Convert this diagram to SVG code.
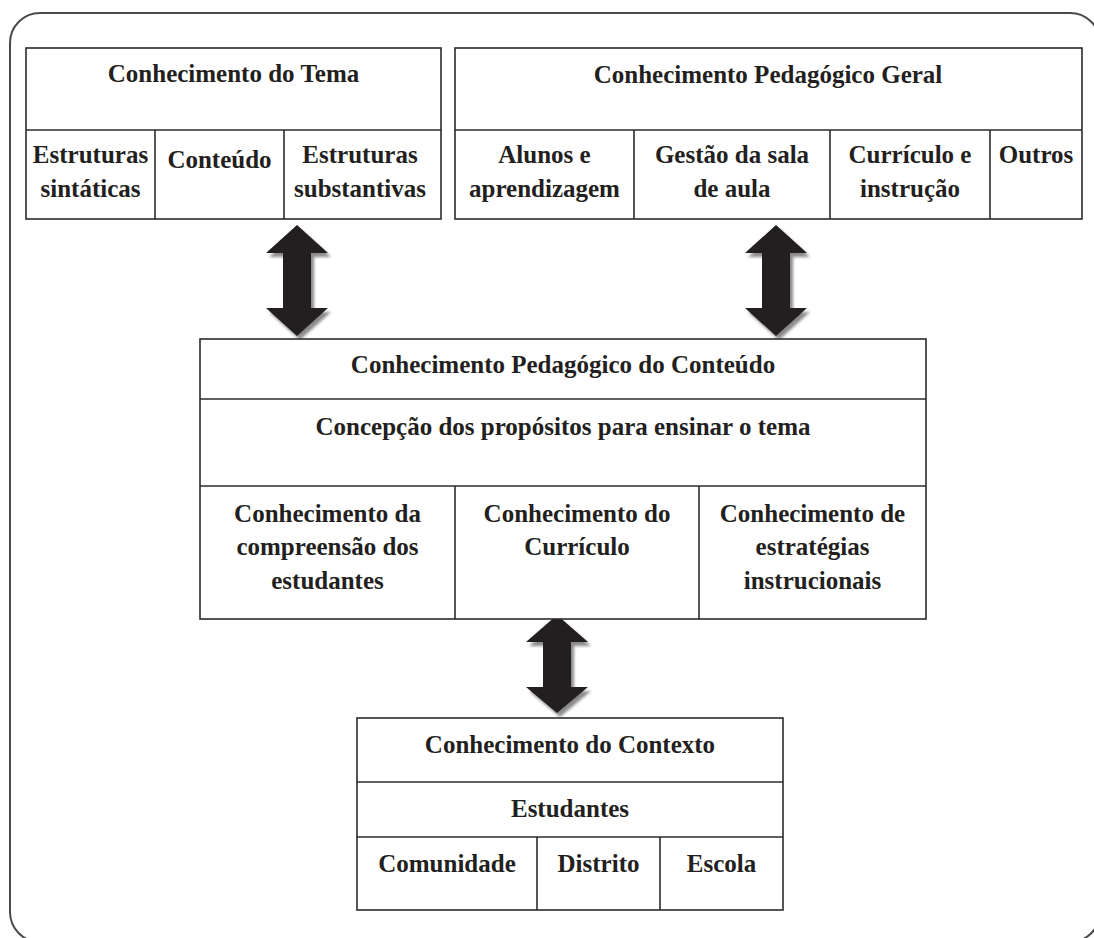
<svg xmlns="http://www.w3.org/2000/svg" width="1094" height="938" viewBox="0 0 1094 938">
<style>
.box{fill:#fff;stroke:#2b2b2b;stroke-width:1.6}
.ln{stroke:#2b2b2b;stroke-width:1.6;fill:none}
.t{font-family:"Liberation Serif","Times New Roman",serif;font-weight:bold;font-size:25px;fill:#231f20;text-anchor:middle}
.arr{fill:#231f20}
.sh{fill:#8a8a8a;filter:url(#blur)}
</style>
<defs>
<filter id="blur" x="-20%" y="-20%" width="140%" height="140%"><feGaussianBlur stdDeviation="1.5"/></filter>
</defs>
<rect width="1094" height="938" fill="#fff"/>
<rect id="frame" x="10" y="13" width="1090" height="929" rx="30" ry="30" fill="none" stroke="#4a4a4a" stroke-width="2"/>

<g id="connectors">
  <path class="sh" transform="translate(3,4)" d="M297,225 L328,253 L311,253 L311,308 L328,308 L297,336 L266,308 L283,308 L283,253 L266,253 Z"/>
  <path class="arr" d="M297,225 L328,253 L311,253 L311,308 L328,308 L297,336 L266,308 L283,308 L283,253 L266,253 Z"/>
  <path class="sh" transform="translate(3,4)" d="M776,225 L807,253 L790,253 L790,308 L807,308 L776,336 L745,308 L762,308 L762,253 L745,253 Z"/>
  <path class="arr" d="M776,225 L807,253 L790,253 L790,308 L807,308 L776,336 L745,308 L762,308 L762,253 L745,253 Z"/>
  <path class="sh" transform="translate(3,4)" d="M557,615 L588,642 L571,642 L571,687 L588,687 L557,713 L526,687 L543,687 L543,642 L526,642 Z"/>
  <path class="arr" d="M557,615 L588,642 L571,642 L571,687 L588,687 L557,713 L526,687 L543,687 L543,642 L526,642 Z"/>
</g>

<g id="tema">
  <rect class="box" x="26" y="48" width="415" height="171"/>
  <line class="ln" x1="26" y1="130" x2="441" y2="130"/>
  <line class="ln" x1="155" y1="130" x2="155" y2="219"/>
  <line class="ln" x1="284" y1="130" x2="284" y2="219"/>
  <text class="t" x="233.5" y="82">Conhecimento do Tema</text>
  <text class="t" x="90.5" y="163">Estruturas</text>
  <text class="t" x="90.5" y="197">sintáticas</text>
  <text class="t" x="219.5" y="168">Conteúdo</text>
  <text class="t" x="360" y="163">Estruturas</text>
  <text class="t" x="360" y="197">substantivas</text>
</g>

<g id="pedagogico-geral">
  <rect class="box" x="455" y="48" width="627" height="171"/>
  <line class="ln" x1="455" y1="130" x2="1082" y2="130"/>
  <line class="ln" x1="634" y1="130" x2="634" y2="219"/>
  <line class="ln" x1="830" y1="130" x2="830" y2="219"/>
  <line class="ln" x1="990" y1="130" x2="990" y2="219"/>
  <text class="t" x="768" y="83">Conhecimento Pedagógico Geral</text>
  <text class="t" x="544.5" y="163">Alunos e</text>
  <text class="t" x="544.5" y="197">aprendizagem</text>
  <text class="t" x="732" y="163">Gestão da sala</text>
  <text class="t" x="732" y="197">de aula</text>
  <text class="t" x="910" y="163">Currículo e</text>
  <text class="t" x="910" y="197">instrução</text>
  <text class="t" x="1036" y="163">Outros</text>
</g>

<g id="pck">
  <rect class="box" x="200" y="339" width="726" height="280"/>
  <line class="ln" x1="200" y1="399" x2="926" y2="399"/>
  <line class="ln" x1="200" y1="486" x2="926" y2="486"/>
  <line class="ln" x1="455" y1="486" x2="455" y2="619"/>
  <line class="ln" x1="699" y1="486" x2="699" y2="619"/>
  <text class="t" x="563" y="373">Conhecimento Pedagógico do Conteúdo</text>
  <text class="t" x="563" y="435">Concepção dos propósitos para ensinar o tema</text>
  <text class="t" x="327.5" y="522">Conhecimento da</text>
  <text class="t" x="327.5" y="555">compreensão dos</text>
  <text class="t" x="327.5" y="589">estudantes</text>
  <text class="t" x="577" y="522">Conhecimento do</text>
  <text class="t" x="577" y="555">Currículo</text>
  <text class="t" x="812.5" y="522">Conhecimento de</text>
  <text class="t" x="812.5" y="555">estratégias</text>
  <text class="t" x="812.5" y="589">instrucionais</text>
</g>

<g id="contexto">
  <rect class="box" x="357" y="718" width="426" height="192"/>
  <line class="ln" x1="357" y1="782" x2="783" y2="782"/>
  <line class="ln" x1="357" y1="837" x2="783" y2="837"/>
  <line class="ln" x1="537" y1="837" x2="537" y2="910"/>
  <line class="ln" x1="660" y1="837" x2="660" y2="910"/>
  <text class="t" x="570" y="753">Conhecimento do Contexto</text>
  <text class="t" x="570" y="817">Estudantes</text>
  <text class="t" x="447" y="872">Comunidade</text>
  <text class="t" x="598.5" y="872">Distrito</text>
  <text class="t" x="721.5" y="872">Escola</text>
</g>
</svg>
